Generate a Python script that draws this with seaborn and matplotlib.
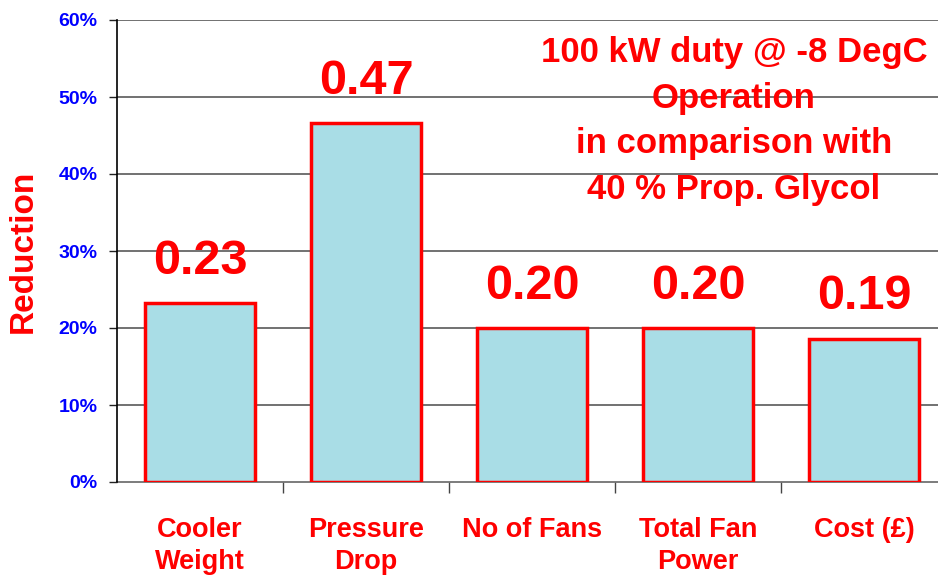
import matplotlib
matplotlib.use("Agg")
import matplotlib.pyplot as plt
import seaborn as sns
import pandas as pd
from matplotlib.ticker import FixedLocator

categories = ["Cooler\nWeight", "Pressure\nDrop", "No of Fans", "Total Fan\nPower", "Cost (£)"]
values = [0.232, 0.466, 0.200, 0.200, 0.186]
labels = ["0.23", "0.47", "0.20", "0.20", "0.19"]
yticks = [0.0, 0.1, 0.2, 0.3, 0.4, 0.5, 0.6]
ytick_labels = ["0%", "10%", "20%", "30%", "40%", "50%", "60%"]
note = "100 kW duty @ -8 DegC\nOperation\nin comparison with\n40 % Prop. Glycol"

sns.set_theme(style="white")
plt.rcParams['font.family'] = ['Liberation Sans', 'DejaVu Sans']

df = pd.DataFrame({"cat": categories, "val": values})

fig = plt.figure(figsize=(9.38, 5.75), dpi=100)
ax = fig.add_axes([117/938, 93/575, 821/938, 462/575])

sns.barplot(data=df, x="cat", y="val", ax=ax, color="#a9dde6", saturation=1,
            width=0.663, edgecolor="#ff0000", linewidth=2.5, zorder=3)

ax.set_ylim(0, 0.6)
ax.set_xlim(-0.5, 4.446)
ax.set_yticks(yticks)
ax.set_yticklabels(ytick_labels, color="#0000ff", fontsize=14, fontweight="bold")
for y in yticks[1:]:
    ax.axhline(y, color="#4a4a4a", lw=1.1, zorder=1)

ax.set_xticks(range(len(categories)))
ax.set_xticklabels(categories, color="#ff0000", fontsize=19.5, fontweight="bold", linespacing=1.32,
                   va="top")
ax.xaxis.set_minor_locator(FixedLocator([0.5, 1.5, 2.5, 3.5]))
ax.tick_params(axis="x", which="major", length=0, pad=25)
ax.tick_params(axis="x", which="minor", length=8, width=1, color="#444444", direction="out", bottom=True)
ax.tick_params(axis="y", which="major", length=6, width=1, color="#222222", direction="out", left=True, pad=8)

ax.set_xlabel("")
ax.set_ylabel("Reduction", color="#ff0000", fontsize=24, fontweight="bold", labelpad=14)

for s in ["top", "right"]:
    ax.spines[s].set_visible(False)
ax.spines["left"].set_color("#000000")
ax.spines["left"].set_linewidth(1.2)
ax.spines["bottom"].set_color("#666666")
ax.spines["bottom"].set_linewidth(1.2)
ax.spines["left"].set_zorder(4)

for i, (v, lab) in enumerate(zip(values, labels)):
    ax.annotate(lab, (i, v), xytext=(0, 14), textcoords="offset points",
                ha="center", va="bottom", color="#ff0000", fontsize=35, fontweight="bold")

fig.text(734/938, 1 - 121/575, note, ha="center", va="center", color="#ff0000",
         fontsize=25, fontweight="bold", linespacing=1.49)

fig.savefig("out.png", dpi=100)
